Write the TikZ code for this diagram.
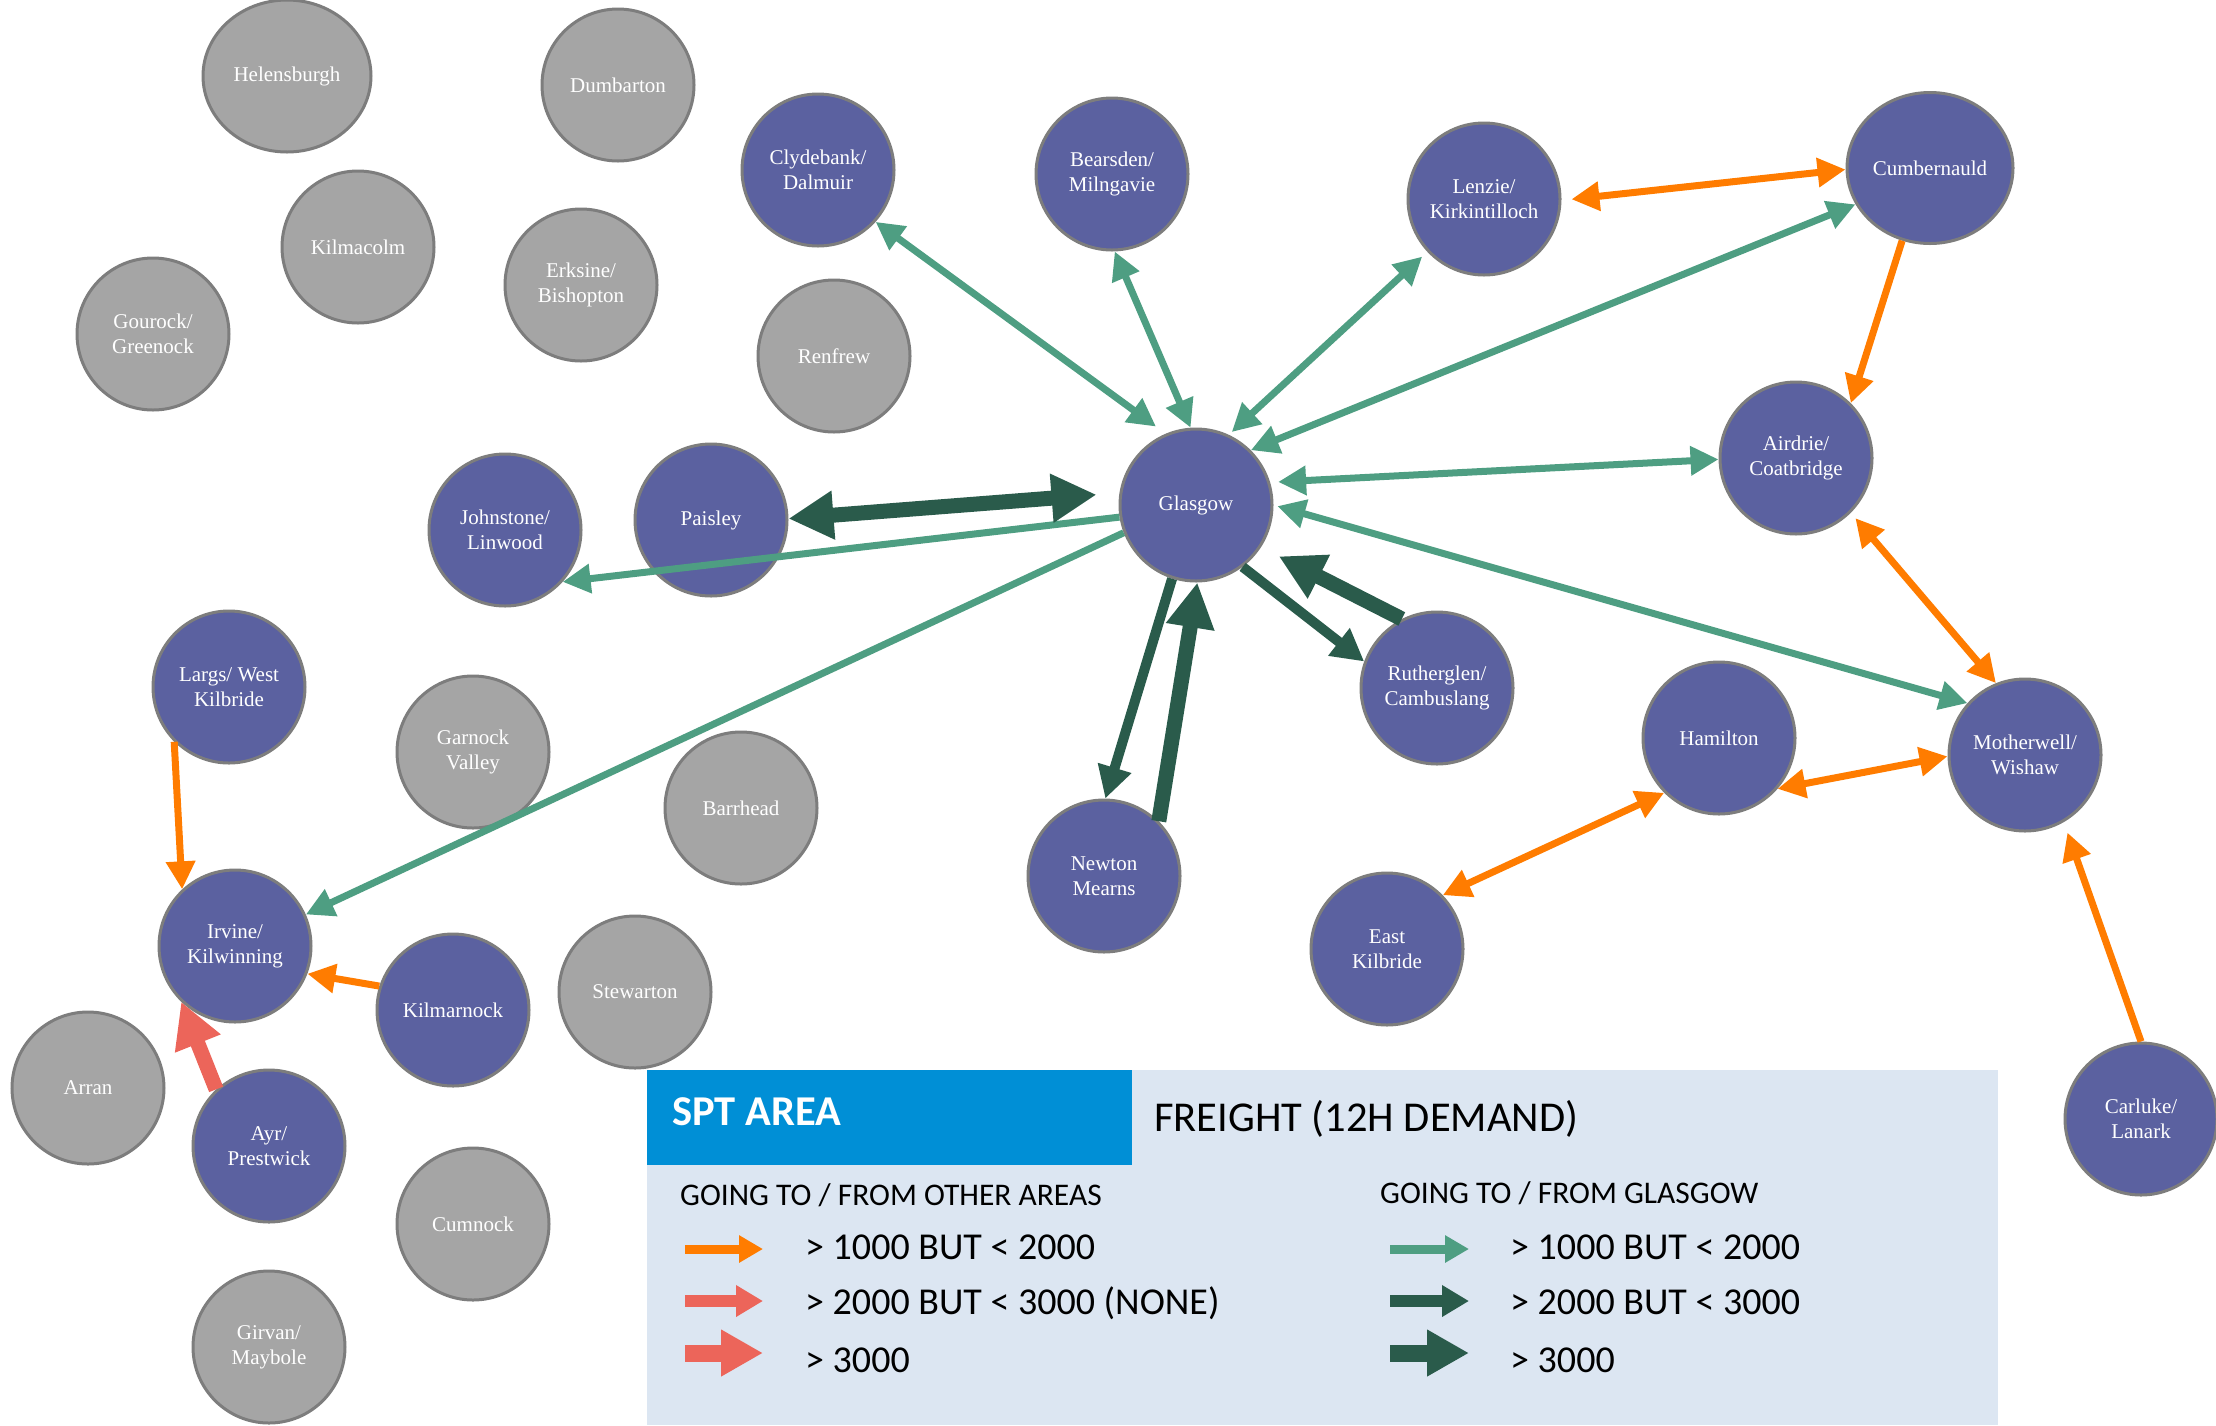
\documentclass[tikz,border=0pt]{standalone}
\usepackage{fontspec}
\setmainfont{Liberation Serif}
\newfontfamily\legfont{Carlito}
\usetikzlibrary{arrows.meta,shapes.geometric}
\definecolor{townfill}{RGB}{91,97,160}
\definecolor{grayfill}{RGB}{165,165,165}
\definecolor{nodeborder}{RGB}{125,125,125}
\definecolor{orangec}{RGB}{255,124,0}
\definecolor{tealc}{RGB}{78,158,130}
\definecolor{darkc}{RGB}{42,91,75}
\definecolor{salmonc}{RGB}{236,101,90}
\definecolor{legbg}{RGB}{220,230,242}
\definecolor{sptblue}{RGB}{0,143,214}
\tikzset{
  town/.style={circle, minimum size=152pt, inner sep=0pt, draw=nodeborder, line width=3pt,
    fill=townfill, text=white, align=center, font=\fontsize{21pt}{25pt}\selectfont},
  other/.style={town, fill=grayfill},
  oval/.style={ellipse, inner sep=0pt},
  tipS/.tip={Triangle[length=28pt,width=28pt]},
  tipM/.tip={Triangle[length=32pt,width=33pt]},
  tipL/.tip={Triangle[length=45pt,width=46pt]},
  orA/.style={draw=orangec, line width=7pt},
  grA/.style={draw=tealc, line width=7pt},
  dkM/.style={draw=darkc, line width=10pt},
  dkL/.style={draw=darkc, line width=15pt},
  rdL/.style={draw=salmonc, line width=15pt},
  legtitle/.style={anchor=base west, inner sep=0pt, font=\legfont\fontsize{42.5pt}{50pt}\selectfont},
  leghead/.style={anchor=base west, inner sep=0pt, font=\legfont\fontsize{31.5pt}{38pt}\selectfont},
  legrow/.style={anchor=base west, inner sep=0pt, font=\legfont\fontsize{38pt}{45pt}\selectfont},
}
\begin{document}
\begin{tikzpicture}[x=1pt,y=-1pt]
\useasboundingbox (0,0) rectangle (2216,1425);
% gray towns
\node[other, oval, minimum width=168pt, minimum height=152pt] (helensburgh) at (287,76) {Helensburgh};
\node[other] (dumbarton) at (618,85) {Dumbarton};
\node[other] (kilmacolm) at (358,247) {Kilmacolm};
\node[other] (erskine) at (581,285) {Erksine/\\Bishopton};
\node[other] (gourock) at (153,334) {Gourock/\\Greenock};
\node[other] (renfrew) at (834,356) {Renfrew};
\node[other] (garnock) at (473,752) {Garnock\\Valley};
\node[other] (barrhead) at (741,808) {Barrhead};
\node[other] (stewarton) at (635,992) {Stewarton};
\node[other] (arran) at (88,1088) {Arran};
\node[other] (cumnock) at (473,1224) {Cumnock};
\node[other] (girvan) at (269,1347) {Girvan/\\Maybole};
% active towns
\node[town] (clydebank) at (818,170) {Clydebank/\\Dalmuir};
\node[town] (bearsden) at (1112,174) {Bearsden/\\Milngavie};
\node[town] (lenzie) at (1484,199) {Lenzie/\\Kirkintilloch};
\node[town, oval, minimum width=166pt, minimum height=151pt] (cumbernauld) at (1930,168) {Cumbernauld};
\node[town] (airdrie) at (1796,458) {Airdrie/\\Coatbridge};
\node[town] (glasgow) at (1196,505) {Glasgow};
\node[town] (johnstone) at (505,530) {Johnstone/\\Linwood};
\node[town] (paisley) at (711,520) {Paisley};
\node[town] (rutherglen) at (1437,688) {Rutherglen/\\Cambuslang};
\node[town] (largs) at (229,687) {Largs/ West\\Kilbride};
\node[town] (hamilton) at (1719,738) {Hamilton};
\node[town] (motherwell) at (2025,755) {Motherwell/\\Wishaw};
\node[town] (newton) at (1104,876) {Newton\\Mearns};
\node[town] (eastkilbride) at (1387,949) {East\\Kilbride};
\node[town] (irvine) at (235,946) {Irvine/\\Kilwinning};
\node[town] (kilmarnock) at (453,1010) {Kilmarnock};
\node[town] (ayr) at (269,1146) {Ayr/\\Prestwick};
\node[town] (carluke) at (2141,1119) {Carluke/\\Lanark};
% connectors to/from Glasgow
\draw[grA, tipS-tipS, shorten >=12pt] (clydebank.-42) -- (glasgow.113);
\draw[grA, tipS-tipS] (bearsden.-88) -- (glasgow.94);
\draw[grA, tipS-tipS, shorten <=7pt, shorten >=4pt] (lenzie.223) -- (glasgow.65);
\draw[grA, tipS-tipS] (cumbernauld.206) -- (glasgow.45);
\draw[grA, tipS-tipS, shorten >=8pt] (airdrie.181) -- (glasgow.17);
\draw[grA, tipS-tipS, shorten >=4pt] (motherwell.138) -- (glasgow.0);
\draw[grA, -tipS] (glasgow.-171) -- (johnstone.-42);
\draw[grA, -tipS] (glasgow.-159) -- (irvine.24);
\draw[dkL, -tipL, shorten >=20pt] (rutherglen.117) -- (glasgow.-33);
\draw[dkM, -tipM] (glasgow.-53) -- (rutherglen.160);
\draw[dkM, -tipM] (glasgow.-108) -- (newton.89);
\draw[dkL, -tipL] (newton.45) -- (glasgow.-89);
\draw[dkL, tipL-tipL, shorten >=23pt] (paisley.1) -- (glasgow.171);
% connectors between other areas
\draw[orA, tipS-tipS, shorten <=10pt] (lenzie.-1) -- (cumbernauld.181);
\draw[orA, -tipS] (cumbernauld.-111) -- (airdrie.45);
\draw[orA, tipS-tipS, shorten <=7pt] (airdrie.-45) -- (motherwell.112);
\draw[orA, tipS-tipS] (hamilton.-41) -- (motherwell.181);
\draw[orA, tipS-tipS] (eastkilbride.44) -- (hamilton.225);
\draw[orA, -tipS, shorten >=11pt] (carluke.90) -- (motherwell.-60);
\draw[orA, -tipS] (largs.-135) -- (irvine.133);
\draw[orA, -tipS] (kilmarnock.162) -- (irvine.-21);
\draw[rdL, -tipL] (ayr.133) -- (irvine.-134);
% legend
\node[fill=legbg, inner sep=0pt, minimum width=1351pt, minimum height=355pt, anchor=north west] (legend) at (647,1070) {};
\node[fill=sptblue, inner sep=0pt, minimum width=485pt, minimum height=95pt, anchor=north west] (sptbox) at (647,1070) {};
\node[legtitle, text=white, font=\legfont\bfseries\fontsize{42.5pt}{50pt}\selectfont] (spt) at (672,1125) {SPT AREA};
\node[legtitle] (freight) at (1154,1131) {FREIGHT (12H DEMAND)};
\node[leghead] (hother) at (680,1205) {GOING TO / FROM OTHER AREAS};
\node[leghead] (hglas) at (1380,1203) {GOING TO / FROM GLASGOW};
\node[legrow] (r1a) at (805,1259) {> 1000 BUT < 2000};
\node[legrow] (r2a) at (805,1314) {> 2000 BUT < 3000 (NONE)};
\node[legrow] (r3a) at (805,1372) {> 3000};
\node[legrow] (r1b) at (1510,1259) {> 1000 BUT < 2000};
\node[legrow] (r2b) at (1510,1314) {> 2000 BUT < 3000};
\node[legrow] (r3b) at (1510,1372) {> 3000};
\coordinate (a1s) at (685,1249); \coordinate (a1e) at (763,1249);
\coordinate (a2s) at (685,1301); \coordinate (a2e) at (763,1301);
\coordinate (a3s) at (685,1353); \coordinate (a3e) at (763,1353);
\coordinate (b1s) at (1390,1249); \coordinate (b1e) at (1469,1249);
\coordinate (b2s) at (1390,1301); \coordinate (b2e) at (1469,1301);
\coordinate (b3s) at (1390,1353); \coordinate (b3e) at (1469,1353);
\draw[draw=orangec, line width=9pt, -{Triangle[length=24pt,width=26pt]}] (a1s) -- (a1e);
\draw[draw=salmonc, line width=12pt, -{Triangle[length=27pt,width=30pt]}] (a2s) -- (a2e);
\draw[draw=salmonc, line width=17pt, -{Triangle[length=42pt,width=44pt]}] (a3s) -- (a3e);
\draw[draw=tealc, line width=9pt, -{Triangle[length=24pt,width=26pt]}] (b1s) -- (b1e);
\draw[draw=darkc, line width=12pt, -{Triangle[length=27pt,width=30pt]}] (b2s) -- (b2e);
\draw[draw=darkc, line width=17pt, -{Triangle[length=42pt,width=44pt]}] (b3s) -- (b3e);
\end{tikzpicture}
\end{document}
